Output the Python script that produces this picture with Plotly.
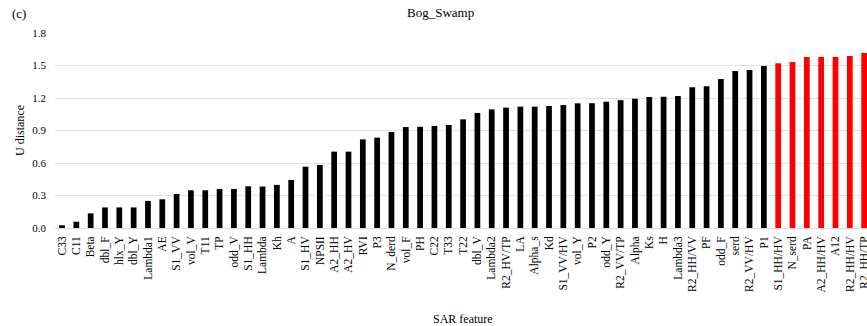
import plotly.graph_objects as go

# SAR features ranked by U distance (Bog_Swamp)
features = [
    "C33", "C11", "Beta", "dbl_F", "hlx_Y", "dbl_Y", "Lambda1", "AE", "S1_VV", "vol_V",
    "T11", "TP", "odd_V", "S1_HH", "Lambda", "Kh", "A", "S1_HV", "NPSII", "A2_HH",
    "A2_HV", "RVI", "P3", "N_derd", "vol_F", "PH", "C22", "T33", "T22", "dbl_V",
    "Lambda2", "R2_HV/TP", "LA", "Alpha_s", "Kd", "S1_VV/HV", "vol_Y", "P2", "odd_Y", "R2_VV/TP",
    "Alpha", "Ks", "H", "Lambda3", "R2_HH/VV", "PF", "odd_F", "serd", "R2_VV/HV", "P1",
    "S1_HH/HV", "N_serd", "PA", "A2_HH/HV", "A12", "R2_HH/HV", "R2_HH/TP",
]
u_distance = [
    0.025, 0.058, 0.135, 0.19, 0.19, 0.19, 0.25, 0.265, 0.314, 0.348,
    0.348, 0.36, 0.36, 0.385, 0.383, 0.398, 0.443, 0.566, 0.582, 0.705,
    0.705, 0.818, 0.834, 0.886, 0.932, 0.934, 0.942, 0.951, 1.003, 1.062,
    1.095, 1.111, 1.12, 1.12, 1.126, 1.135, 1.151, 1.152, 1.166, 1.18,
    1.194, 1.21, 1.212, 1.218, 1.30, 1.308, 1.375, 1.449, 1.458, 1.495,
    1.52, 1.532, 1.578, 1.578, 1.579, 1.588, 1.615,
]
# top-ranked features are highlighted in red
n_highlight = 7
colors = ["#000000"] * (len(features) - n_highlight) + ["#ff0000"] * n_highlight

y_ticks = [0.0, 0.3, 0.6, 0.9, 1.2, 1.5, 1.8]

FONT = "Liberation Serif, Times New Roman, serif"
W, H = 867, 326
ML, MR, MT, MB = 55, 0, 33, 98
PW, PH_ = W - ML - MR, H - MT - MB


def px_x(px):
    return (px - ML) / PW


def px_y(py):
    return (H - MB - py) / PH_


fig = go.Figure(
    go.Bar(
        x=list(range(len(features))),
        y=u_distance,
        marker=dict(color=colors, line=dict(width=0)),
        width=0.4,
    )
)

fig.update_layout(
    width=W,
    height=H,
    margin=dict(l=ML, r=MR, t=MT, b=MB, autoexpand=False),
    paper_bgcolor="white",
    plot_bgcolor="white",
    font=dict(family=FONT, color="#000000", size=11),
    showlegend=False,
    xaxis=dict(
        tickmode="array",
        tickvals=list(range(len(features))),
        ticktext=features,
        tickangle=-90,
        range=[-0.49, 56.2],
        showgrid=False,
        zeroline=False,
        showline=False,
        ticks="",
        ticklabelstandoff=5,
        ticklabeloverflow="allow",
        tickfont=dict(family=FONT, size=11.5, color="#000000"),
        automargin=False,
    ),
    yaxis=dict(
        range=[0, 1.8],
        tickvals=y_ticks,
        ticktext=[f"{v:.1f}" for v in y_ticks],
        showgrid=True,
        gridcolor="#e3e3e3",
        gridwidth=1,
        zeroline=True,
        zerolinecolor="#dcdcdc",
        zerolinewidth=1,
        showline=False,
        ticks="",
        ticklabelstandoff=8,
        tickfont=dict(family=FONT, size=11, color="#000000"),
        automargin=False,
    ),
    annotations=[
        dict(text="Bog_Swamp", x=px_x(440), y=px_y(13), xref="paper", yref="paper",
             showarrow=False, font=dict(family=FONT, size=13), xanchor="center", yanchor="middle"),
        dict(text="(c)", x=px_x(10), y=px_y(14), xref="paper", yref="paper",
             showarrow=False, font=dict(family=FONT, size=13), xanchor="left", yanchor="middle"),
        dict(text="U distance", x=px_x(20), y=px_y(131), xref="paper", yref="paper",
             showarrow=False, textangle=-90, font=dict(family=FONT, size=12),
             xanchor="center", yanchor="middle"),
        dict(text="SAR feature", x=px_x(463), y=px_y(319), xref="paper", yref="paper",
             showarrow=False, font=dict(family=FONT, size=12), xanchor="center", yanchor="middle"),
    ],
)

fig.write_html("out.html")
